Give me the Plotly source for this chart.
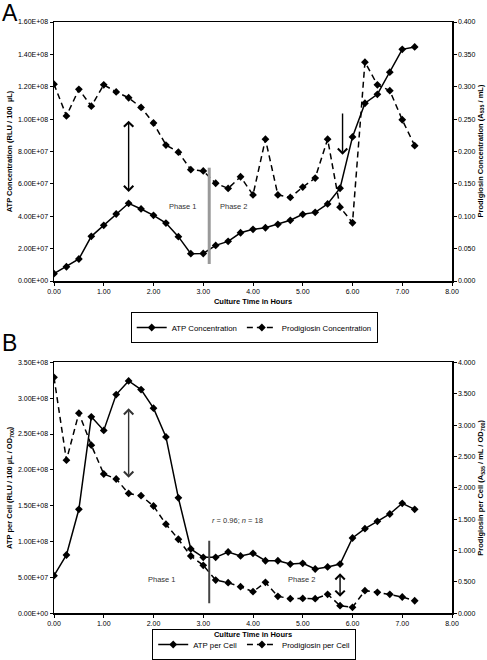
import plotly.graph_objects as go

hours = [0.00, 0.25, 0.50, 0.75, 1.00, 1.25, 1.50, 1.75, 2.00, 2.25, 2.50, 2.75, 3.00, 3.25, 3.50,
         3.75, 4.00, 4.25, 4.50, 4.75, 5.00, 5.25, 5.50, 5.75, 6.00, 6.25, 6.50, 6.75, 7.00, 7.25]

atp_conc = [4.5e6, 8.8e6, 1.36e7, 2.76e7, 3.44e7, 4.14e7, 4.80e7, 4.45e7, 4.06e7, 3.58e7,
            2.74e7, 1.69e7, 1.70e7, 2.20e7, 2.45e7, 2.98e7, 3.19e7, 3.29e7, 3.50e7, 3.75e7,
            4.12e7, 4.24e7, 4.76e7, 5.73e7, 8.90e7, 1.098e8, 1.153e8, 1.29e8, 1.431e8, 1.446e8]
prod_conc = [0.304, 0.255, 0.296, 0.270, 0.303, 0.292, 0.283, 0.268, 0.244, 0.210,
             0.199, 0.172, 0.170, 0.151, 0.143, 0.161, 0.133, 0.219, 0.133, 0.129,
             0.145, 0.159, 0.219, 0.114, 0.090, 0.338, 0.303, 0.294, 0.249, 0.209]
atp_cell = [5.24e7, 8.13e7, 1.45e8, 2.74e8, 2.55e8, 3.05e8, 3.24e8, 3.12e8, 2.86e8, 2.46e8,
            1.61e8, 8.97e7, 7.8e7, 7.8e7, 8.55e7, 8.0e7, 8.37e7, 7.33e7, 7.33e7, 6.87e7,
            6.97e7, 6.18e7, 6.46e7, 6.87e7, 1.05e8, 1.18e8, 1.283e8, 1.385e8, 1.534e8, 1.45e8]
prod_cell = [3.76, 2.44, 3.19, 2.68, 2.22, 2.14, 1.91, 1.874, 1.71, 1.42,
             1.18, 0.913, 0.765, 0.53, 0.488, 0.424, 0.344, 0.494, 0.271, 0.233,
             0.237, 0.233, 0.303, 0.121, 0.096, 0.36, 0.335, 0.303, 0.26, 0.2]

x_ticks = [0, 1, 2, 3, 4, 5, 6, 7, 8]
a_left_ticks = [0, 2e7, 4e7, 6e7, 8e7, 1e8, 1.2e8, 1.4e8, 1.6e8]
a_right_ticks = [0, 0.05, 0.10, 0.15, 0.20, 0.25, 0.30, 0.35, 0.40]
b_left_ticks = [0, 5e7, 1e8, 1.5e8, 2e8, 2.5e8, 3e8, 3.5e8]
b_right_ticks = [0, 0.5, 1.0, 1.5, 2.0, 2.5, 3.0, 3.5, 4.0]

# annotation anchors (data units)
a_double_arrow = (1.5, 5.5e7, 1.0e8)
a_down_arrow = (5.8, 7.8e7, 1.044e8)
a_phase_line = (3.12, 1.05e7, 7.0e7)
b_double_arrow1 = (1.5, 1.89e8, 2.88e8)
b_double_arrow2 = (5.75, 2.3e7, 5.8e7)
b_phase_line = (3.12, 1.4e7, 1.01e8)

FONT = "Arial, Liberation Sans, sans-serif"

def sci(v):
    return f"{v:.2E}"

fig = go.Figure()
line_kw = dict(color="black", width=1.5)
mk = dict(symbol="diamond", size=6, color="black")

fig.add_trace(go.Scatter(x=hours, y=atp_conc, mode="lines+markers", name="ATP Concentration",
                         line=line_kw, marker=mk, xaxis="x", yaxis="y", legend="legend"))
fig.add_trace(go.Scatter(x=hours, y=prod_conc, mode="lines+markers", name="Prodigiosin Concentration",
                         line=dict(color="black", width=1.5, dash="6px,4px"), marker=mk,
                         xaxis="x", yaxis="y2", legend="legend"))
fig.add_trace(go.Scatter(x=hours, y=atp_cell, mode="lines+markers", name="ATP per Cell",
                         line=line_kw, marker=mk, xaxis="x2", yaxis="y3", legend="legend2"))
fig.add_trace(go.Scatter(x=hours, y=prod_cell, mode="lines+markers", name="Prodigiosin per Cell",
                         line=dict(color="black", width=1.5, dash="6px,4px"), marker=mk,
                         xaxis="x2", yaxis="y4", legend="legend2"))

W, H = 487, 660
xd = [54 / W, 452 / W]
ya = [1 - 281 / H, 1 - 22 / H]
yb = [1 - 613.3 / H, 1 - 362.3 / H]

tickfont = dict(family=FONT, size=7, color="black")
titlefont = dict(family=FONT, size=7.5, color="black")

xcommon = dict(range=[0, 8], tickvals=x_ticks, ticktext=[f"{v:.2f}" for v in x_ticks],
               showline=True, linecolor="black", linewidth=1.5, mirror=True, ticks="outside",
               ticklen=3, tickcolor="black", showgrid=False, zeroline=False, tickfont=tickfont,
               automargin=False,
               title=dict(text="<b>Culture Time in Hours</b>", font=titlefont, standoff=5))

ycommon = dict(showline=True, linecolor="black", linewidth=1.5, ticks="outside", ticklen=3,
               tickcolor="black", showgrid=False, zeroline=False, tickfont=tickfont,
               automargin=False)

legfont = dict(family=FONT, size=7.8, color="black")

fig.update_layout(
    template="none",
    width=W, height=H, margin=dict(l=0, r=0, t=0, b=0, autoexpand=False),
    paper_bgcolor="white", plot_bgcolor="white",
    font=dict(family=FONT, color="black"),
    xaxis=dict(domain=xd, anchor="y", **xcommon),
    xaxis2=dict(domain=xd, anchor="y3", **xcommon),
    yaxis=dict(domain=ya, anchor="x", range=[0, 1.6e8], tickvals=a_left_ticks,
               ticktext=[sci(v) for v in a_left_ticks], **ycommon,
               title=dict(text="<b>ATP Concentration (RLU / 100  µL)</b>", font=titlefont, standoff=4)),
    yaxis2=dict(domain=ya, anchor="x", overlaying="y", side="right", range=[0, 0.4],
                tickvals=a_right_ticks, ticktext=[f"{v:.3f}" for v in a_right_ticks], **ycommon),
    yaxis3=dict(domain=yb, anchor="x2", range=[0, 3.5e8], tickvals=b_left_ticks,
                ticktext=[sci(v) for v in b_left_ticks], **ycommon,
                title=dict(text="<b>ATP per Cell (RLU / 100 µL / OD<sub>700</sub>)</b>", font=titlefont, standoff=4)),
    yaxis4=dict(domain=yb, anchor="x2", overlaying="y3", side="right", range=[0, 4.0],
                tickvals=b_right_ticks, ticktext=[f"{v:.3f}" for v in b_right_ticks], **ycommon),
    legend=dict(orientation="h", x=0.522, xanchor="center", y=1 - 312 / H, yanchor="top",
                bordercolor="black", borderwidth=1, font=legfont, bgcolor="rgba(255,255,255,0)",
                itemwidth=30, tracegroupgap=0),
    legend2=dict(orientation="h", x=0.522, xanchor="center", y=0.0, yanchor="bottom",
                 bordercolor="black", borderwidth=1, font=legfont, bgcolor="rgba(255,255,255,0)",
                 itemwidth=30, tracegroupgap=0),
    showlegend=True,
)

# vertical phase lines
fig.add_shape(type="line", xref="x", yref="y", x0=a_phase_line[0], x1=a_phase_line[0],
              y0=a_phase_line[1], y1=a_phase_line[2], line=dict(color="#999999", width=3))
fig.add_shape(type="line", xref="x2", yref="y3", x0=b_phase_line[0], x1=b_phase_line[0],
              y0=b_phase_line[1], y1=b_phase_line[2], line=dict(color="#444444", width=2))

def arrow(xr, yr, x, y0, y1, double, color):
    d = dict(xref=xr, yref=yr, axref=xr, ayref=yr, x=x, y=y0, ax=x, ay=y1, text="",
             showarrow=True, arrowhead=4, arrowsize=1.3, arrowwidth=1.4, arrowcolor=color)
    if double:
        d.update(arrowside="end+start", startarrowhead=4, startarrowsize=1.3)
    return d

phase_font = dict(family=FONT, size=7.5, color="#333333")
anns = [
    arrow("x", "y", a_double_arrow[0], a_double_arrow[1], a_double_arrow[2], True, "black"),
    arrow("x", "y", a_down_arrow[0], a_down_arrow[1], a_down_arrow[2], False, "black"),
    arrow("x2", "y3", b_double_arrow1[0], b_double_arrow1[1], b_double_arrow1[2], True, "#333333"),
    arrow("x2", "y3", b_double_arrow2[0], b_double_arrow2[1], b_double_arrow2[2], True, "black"),
    dict(xref="x", yref="y", x=2.59, y=4.6e7, text="Phase 1", showarrow=False, font=phase_font),
    dict(xref="x", yref="y", x=3.62, y=4.6e7, text="Phase 2", showarrow=False, font=phase_font),
    dict(xref="x2", yref="y3", x=2.17, y=4.74e7, text="Phase 1", showarrow=False, font=phase_font),
    dict(xref="x2", yref="y3", x=4.98, y=4.74e7, text="Phase 2", showarrow=False, font=phase_font),
    dict(xref="x2", yref="y3", x=3.69, y=1.29e8, text="<i>r</i> = 0.96; <i>n</i> = 18",
         showarrow=False, font=phase_font),
    # right axis titles (read bottom-to-top)
    dict(xref="paper", yref="paper", x=481 / W, y=1 - 151.5 / H, xanchor="center", yanchor="middle",
         textangle=-90, showarrow=False, font=titlefont,
         text="<b>Prodigiosin Concentration (A<sub>535</sub> / mL)</b>"),
    dict(xref="paper", yref="paper", x=481 / W, y=1 - 487.7 / H, xanchor="center", yanchor="middle",
         textangle=-90, showarrow=False, font=titlefont,
         text="<b>Prodigiosin per Cell (A<sub>535</sub> / mL / OD<sub>700</sub>)</b>"),
    dict(xref="paper", yref="paper", x=0.0, y=1.0, xanchor="left", yanchor="top", text="A",
         showarrow=False, font=dict(family=FONT, size=23, color="black"), yshift=2),
    dict(xref="paper", yref="paper", x=0.0, y=1 - 330 / H, xanchor="left", yanchor="top", text="B",
         showarrow=False, font=dict(family=FONT, size=23, color="black"), yshift=2),
]
fig.update_layout(annotations=anns)

fig.write_html("out.html", config={"displayModeBar": False, "staticPlot": True},
               post_script="document.body.style.margin='0px';document.body.style.overflow='hidden';")
